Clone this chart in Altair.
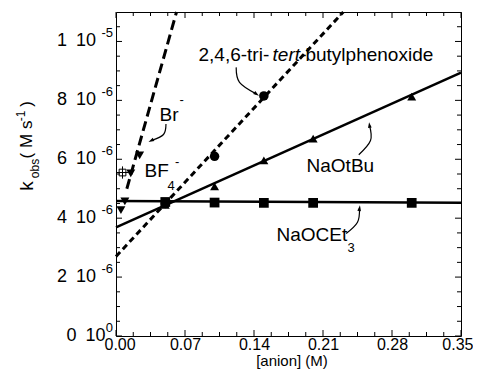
import altair as alt
import pandas as pd

# ---------------- data ----------------
# Br- (triangle-down markers, long-dashed fit)
br_x = [0.005, 0.009, 0.015, 0.024]
br_y = [4.27e-6, 4.57e-6, 5.52e-6, 6.13e-6]
br_fit_x = [0.011, 0.0614]
br_fit_y = [5.0e-6, 1.1e-5]

# BF4- (open square with cross)
bf4_x = [0.0066]
bf4_y = [5.55e-6]

# 2,4,6-tri-tert-butylphenoxide (circles, short-dashed fit)
tri_x = [0.05, 0.10, 0.15]
tri_y = [4.5e-6, 6.1e-6, 8.15e-6]
tri_fit_x = [0.0, 0.2306]
tri_fit_y = [2.7e-6, 1.1e-5]

# NaOtBu (triangle-up markers, solid fit)
otbu_x = [0.05, 0.10, 0.15, 0.20, 0.30]
otbu_y = [4.45e-6, 5.08e-6, 5.96e-6, 6.70e-6, 8.13e-6]
otbu_fit_x = [0.0, 0.35]
otbu_fit_y = [3.69e-6, 8.94e-6]

# NaOCEt3 (squares, solid fit)
ocet_x = [0.05, 0.10, 0.15, 0.20, 0.30]
ocet_y = [4.55e-6, 4.53e-6, 4.52e-6, 4.52e-6, 4.52e-6]
ocet_fit_x = [0.0, 0.35]
ocet_fit_y = [4.58e-6, 4.52e-6]

# axis ticks / labels
x_major = [0.0, 0.07, 0.14, 0.21, 0.28, 0.35]
x_minor = [0.0175, 0.035, 0.0525, 0.0875, 0.105, 0.1225, 0.1575, 0.175,
           0.1925, 0.2275, 0.245, 0.2625, 0.2975, 0.315, 0.3325]
x_title = "[anion] (M)"
y_major = [0.0, 2e-6, 4e-6, 6e-6, 8e-6, 1e-5]
y_minor = [0.5e-6, 1e-6, 1.5e-6, 2.5e-6, 3e-6, 3.5e-6, 4.5e-6, 5e-6, 5.5e-6,
           6.5e-6, 7e-6, 7.5e-6, 8.5e-6, 9e-6, 9.5e-6, 10.5e-6]
y_lab_base = ["0\u200210", "2\u200210", "4\u200210", "6\u200210", "8\u200210", "1\u200210"]
y_lab_exp = ["0", "-6", "-6", "-6", "-6", "-5"]

# annotation arrows (curved leader lines)
arrow_id = ["br", "br", "br", "tri", "tri", "tri", "otbu", "otbu", "otbu", "ocet", "ocet", "ocet"]
arrow_i = [0, 1, 2, 0, 1, 2, 0, 1, 2, 0, 1, 2]
arrow_x = [0.0507, 0.0482, 0.0360, 0.1219, 0.1253, 0.1422,
           0.2463, 0.2582, 0.2572, 0.2335, 0.2450, 0.2470]
arrow_y = [7.197e-6, 6.841e-6, 6.638e-6, 9.12e-6, 8.61e-6, 8.22e-6,
           6.154e-6, 6.638e-6, 7.146e-6, 3.478e-6, 3.861e-6, 4.325e-6]
head_x = [0.0360, 0.1422, 0.2572, 0.2470]
head_y = [6.638e-6, 8.22e-6, 7.146e-6, 4.325e-6]
head_ang = [243, 125, 352, 8]

# annotation texts
lab_main_t = ["Br", "BF", "2,4,6-tri-", "butylphenoxide", "NaOtBu", "NaOCEt"]
lab_main_x = [0.0441, 0.0289, 0.0837, 0.1922, 0.1933, 0.1628]
lab_main_y = [7.29e-6, 5.395e-6, 9.347e-6, 9.347e-6, 5.571e-6, 3.228e-6]
lab_ital_t = ["tert-"]
lab_ital_x = [0.1588]
lab_ital_y = [9.347e-6]
lab_small_t = ["-", "-", "4", "3"]
lab_small_x = [0.0644, 0.0598, 0.0522, 0.2348]
lab_small_y = [7.86e-6, 5.757e-6, 4.968e-6, 2.855e-6]

# ---------------- chart ----------------
W, H = 345, 324
FONT = "Liberation Sans"
xs = alt.Scale(domain=[0, 0.35], nice=False, zero=False)
ys = alt.Scale(domain=[0, 1.1e-5], nice=False, zero=False)
x_axis = alt.Axis(values=x_major, format=".2f", ticks=False, tickSize=0, domain=False,
                  grid=False, labelFontSize=16, labelFont=FONT, labelColor="black",
                  labelPadding=0, labelFlush=True, labelFlushOffset=12, title=None)
X = alt.X("x:Q", scale=xs, axis=x_axis)
Y = alt.Y("y:Q", scale=ys, axis=None)


def df(xv, yv, **extra):
    d = {"x": xv, "y": yv}
    d.update(extra)
    return pd.DataFrame(d)


layers = []


def xticks(vals, length):
    d = df(vals, [0.0] * len(vals))
    b = alt.Chart(d).mark_rule(color="black", strokeWidth=1).encode(
        x=X, y=alt.value(H), y2=alt.value(H - length))
    t = alt.Chart(d).mark_rule(color="black", strokeWidth=1).encode(
        x=X, y=alt.value(0), y2=alt.value(length))
    return [b, t]


def yticks(vals, length):
    d = df([0.0] * len(vals), vals)
    l = alt.Chart(d).mark_rule(color="black", strokeWidth=1).encode(
        y=Y, x=alt.value(0), x2=alt.value(length))
    r = alt.Chart(d).mark_rule(color="black", strokeWidth=1).encode(
        y=Y, x=alt.value(W), x2=alt.value(W - length))
    return [l, r]


layers += xticks(x_major, 6) + xticks(x_minor, 4) + yticks(y_major, 6) + yticks(y_minor, 4)

# x axis title
layers.append(alt.Chart(pd.DataFrame({"t": [x_title]})).mark_text(
    align="center", baseline="alphabetic", font=FONT, fontSize=15, color="black").encode(
    x=alt.value(176), y=alt.value(354), text="t:N"))

# y tick labels with raised exponents
ylab = df([0.0] * len(y_major), y_major, base=y_lab_base, exp=y_lab_exp)
layers.append(alt.Chart(ylab).mark_text(align="right", baseline="middle", dy=-8,
                                        font=FONT, fontSize=13, color="black").encode(
    y=Y, x=alt.value(-3), text="exp:N"))
layers.append(alt.Chart(ylab).transform_filter("datum.exp != '0'").mark_text(
    align="right", baseline="middle", font=FONT, fontSize=18, color="black").encode(
    y=Y, x=alt.value(-20), text="base:N"))
layers.append(alt.Chart(ylab).transform_filter("datum.exp == '0'").mark_text(
    align="right", baseline="middle", font=FONT, fontSize=18, color="black").encode(
    y=Y, x=alt.value(-10.5), text="base:N"))

# y axis title pieces (rotated)
ytitle = [("k", -89.5, 174, 19), ("obs", -81, 156.5, 12), ("( M s", -89.5, 127.5, 17),
          ("-1", -95.5, 104, 12), (")", -89.5, 92, 17)]
for t, px, py, fs in ytitle:
    layers.append(alt.Chart(pd.DataFrame({"t": [t]})).mark_text(
        angle=270, align="center", baseline="middle", font=FONT, fontSize=fs,
        color="black").encode(x=alt.value(px), y=alt.value(py), text="t:N"))

# fit lines
layers.append(alt.Chart(df(br_fit_x, br_fit_y)).mark_line(
    color="black", strokeWidth=3, strokeDash=[10, 5]).encode(x=X, y=Y))
layers.append(alt.Chart(df(tri_fit_x, tri_fit_y)).mark_line(
    color="black", strokeWidth=3, strokeDash=[6, 4]).encode(x=X, y=Y))
layers.append(alt.Chart(df(otbu_fit_x, otbu_fit_y)).mark_line(
    color="black", strokeWidth=2.5).encode(x=X, y=Y))
layers.append(alt.Chart(df(ocet_fit_x, ocet_fit_y)).mark_line(
    color="black", strokeWidth=2.5).encode(x=X, y=Y))


# markers
def markers(xv, yv, shape, size, filled=True, sw=1):
    return alt.Chart(df(xv, yv)).mark_point(
        shape=shape, size=size, filled=filled, color="black", opacity=1,
        strokeWidth=sw).encode(x=X, y=Y)


layers.append(markers(ocet_x, ocet_y, "square", 95))
layers.append(markers(otbu_x, otbu_y, "triangle-up", 80))
layers.append(markers(tri_x, tri_y, "circle", 90))
layers.append(markers(br_x, br_y, "triangle-down", 80))
layers.append(markers(bf4_x, bf4_y, "square", 45, filled=False))
layers.append(markers(bf4_x, bf4_y, "M-1,0L1,0M0,-1L0,1", 150, filled=False))

# annotation arrows
layers.append(alt.Chart(df(arrow_x, arrow_y, a=arrow_id, i=arrow_i)).mark_line(
    color="black", strokeWidth=1.2, interpolate="natural").encode(
    x=X, y=Y, detail="a:N", order="i:Q"))
layers.append(alt.Chart(df(head_x, head_y, ang=head_ang)).mark_point(
    shape="M0,-1L0.55,0.7L-0.55,0.7Z", size=45, filled=True, color="black",
    opacity=1).encode(x=X, y=Y, angle=alt.Angle("ang:Q", scale=None)))

# annotation texts
layers.append(alt.Chart(df(lab_main_x, lab_main_y, t=lab_main_t)).mark_text(
    align="left", baseline="alphabetic", font=FONT, fontSize=19, color="black").encode(
    x=X, y=Y, text="t:N"))
layers.append(alt.Chart(df(lab_ital_x, lab_ital_y, t=lab_ital_t)).mark_text(
    align="left", baseline="alphabetic", font=FONT, fontSize=19, fontStyle="italic",
    color="black").encode(x=X, y=Y, text="t:N"))
layers.append(alt.Chart(df(lab_small_x, lab_small_y, t=lab_small_t)).mark_text(
    align="left", baseline="alphabetic", font=FONT, fontSize=13, color="black").encode(
    x=X, y=Y, text="t:N"))

chart = alt.layer(*layers).properties(
    width=W, height=H,
    autosize=alt.AutoSizeParams(type="none"),
    padding={"left": 108, "top": 4, "right": 12, "bottom": 34},
    background="white",
).configure_view(stroke="black", strokeWidth=1)

chart.save("out.html", embed_options={"renderer": "svg", "actions": False})
